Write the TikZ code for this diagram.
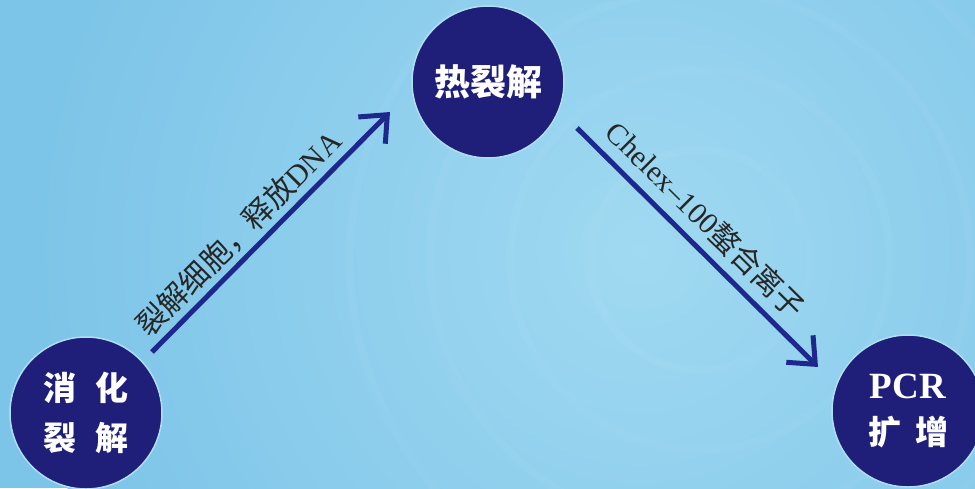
\documentclass[tikz,border=0pt]{standalone}
\usepackage{fontspec}
\setmainfont{Liberation Serif}
\newfontfamily\cjk{Noto Sans CJK SC}
\usetikzlibrary{arrows.meta}
\usetikzlibrary{positioning}
\definecolor{navy}{RGB}{31,31,122}
\definecolor{arrowblue}{RGB}{30,40,140}
\definecolor{skyA}{RGB}{124,196,232}
\definecolor{skyB}{RGB}{160,217,241}
\definecolor{rim}{RGB}{175,222,245}

\begin{document}
\begin{tikzpicture}[x=1pt,y=-1pt,
  stage/.style={circle,fill=navy,draw=rim,line width=1.5pt,minimum size=152pt,inner sep=0pt,text=white,align=center},
  flow/.style={arrowblue,line width=5pt,-{Straight Barb[length=22pt,width=38pt,line width=5pt]}},
  lbl/.style={sloped,text=black!85,font=\fontsize{30}{34}\selectfont}]
\useasboundingbox (0,0) rectangle (975,488);
% background
\fill[skyA] (0,0) rectangle (975,488);
\begin{scope}
\clip (0,0) rectangle (975,488);
\shade[inner color=skyB,outer color=skyA] (640,250) circle (620);
\foreach \r in {110,190,270,350}
  \draw[white,opacity=0.035,line width=8pt] (700,260) circle (\r);
\end{scope}

% stages
\node[stage,font=\fontsize{36}{40}\selectfont\cjk\bfseries] (rl) at (488,82) {热裂解};
\node[stage,font=\fontsize{33}{50}\selectfont\cjk\bfseries] (xh) at (86,413) {消\hspace{20pt}化\\裂\hspace{20pt}解};
\node[stage,font=\fontsize{37}{46}\selectfont\bfseries] (pcr) at (908,411) {PCR\\{\fontsize{33}{46}\selectfont\cjk 扩\hspace{14pt}增}};

% arrows
\coordinate (a1) at (152,352);
\coordinate (a2) at (390,112);
\coordinate (b1) at (577,128);
\coordinate (b2) at (818,367);
\draw[flow] (a1) -- (a2) node[lbl,pos=0.43,above=2pt] {{\cjk 裂解细胞，释放}DNA};
\draw[flow] (b1) -- (b2) node[lbl,pos=0.46,above=6pt] {Chelex--100{\cjk 螯合离子}};
\end{tikzpicture}
\end{document}
